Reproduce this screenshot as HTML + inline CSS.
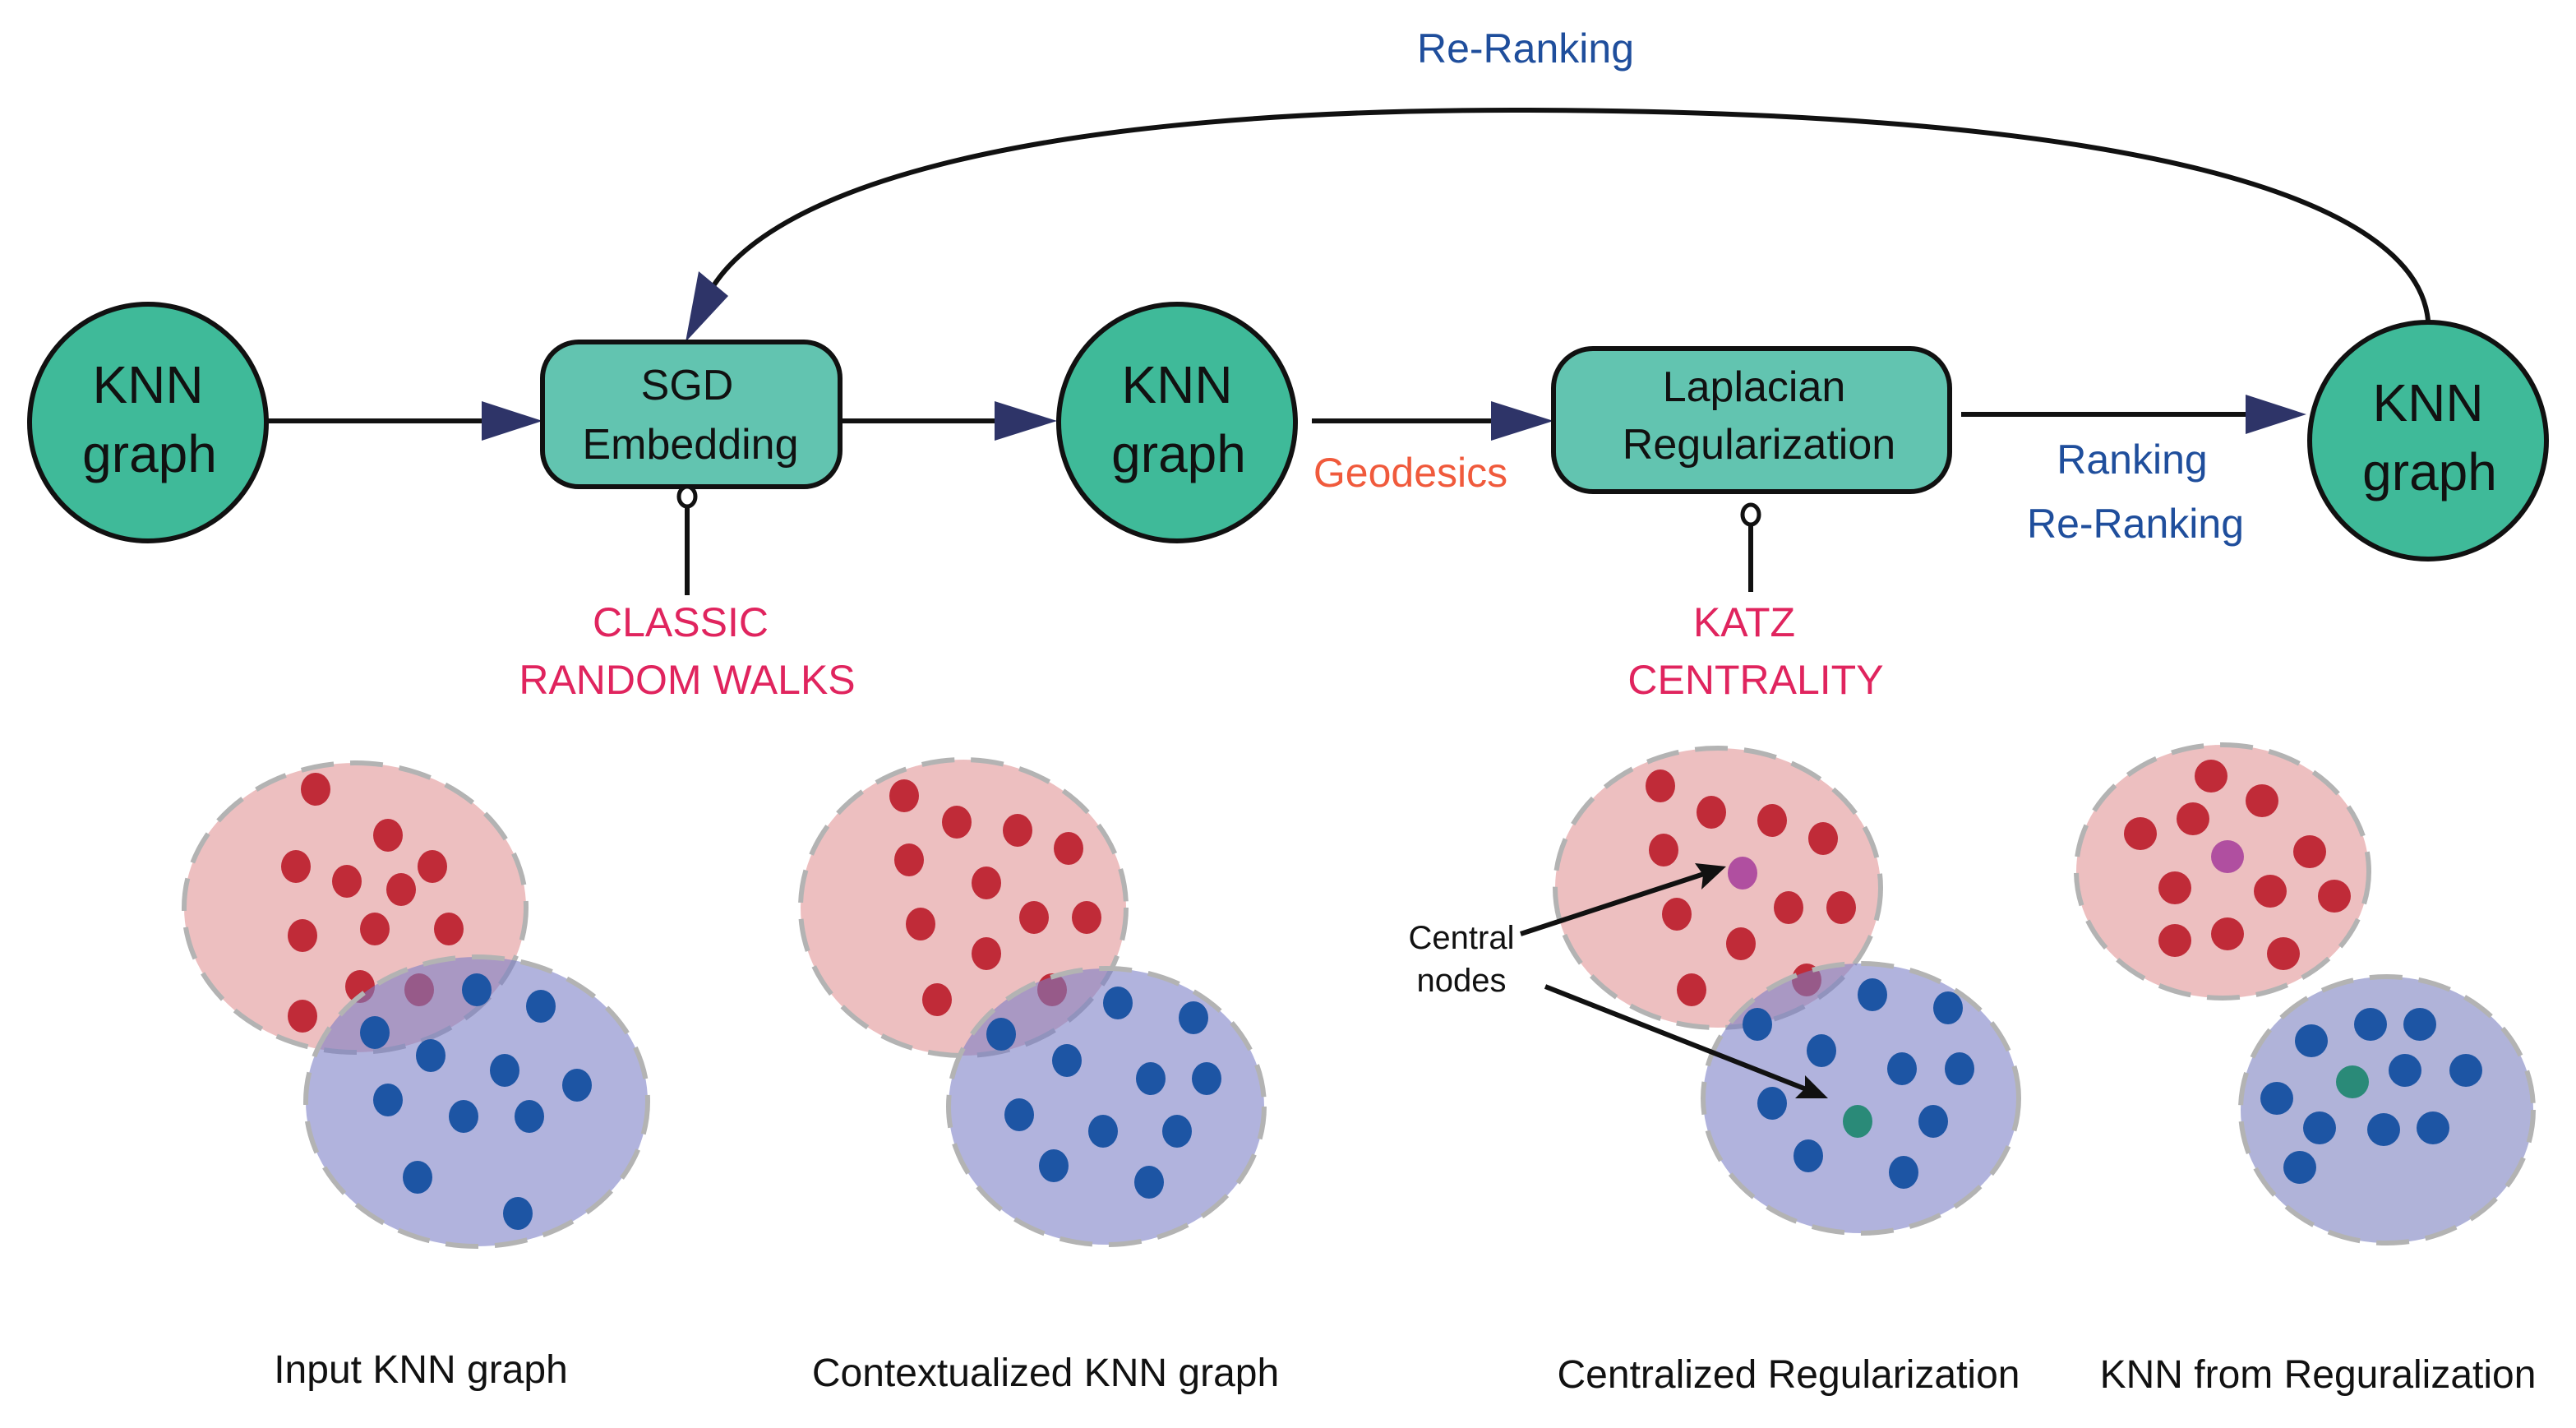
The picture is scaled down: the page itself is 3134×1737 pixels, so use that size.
<!DOCTYPE html>
<html><head><meta charset="utf-8"><style>html,body{margin:0;padding:0;background:#fff}svg{display:block}</style></head>
<body>
<svg width="3134" height="1737" viewBox="0 0 1567 868.5" xmlns="http://www.w3.org/2000/svg" font-family="'Liberation Sans', sans-serif">
<!-- connectors -->
<g stroke="#111" stroke-width="3" fill="none">
<line x1="163" y1="256" x2="300" y2="256"/>
<line x1="511" y1="256" x2="610" y2="256"/>
<line x1="798" y1="256" x2="915" y2="256"/>
<line x1="1193" y1="252" x2="1370" y2="252"/>
<path d="M1477 195 C1470 120 1300 68 930 67 C640 66 460 110 428 185"/>
<line x1="418" y1="308" x2="418" y2="362"/>
<line x1="1065" y1="319" x2="1065" y2="360"/>
</g>
<g fill="#2e3468">
<polygon points="293,244 330,256 293,268"/>
<polygon points="605,244 643,256 605,268"/>
<polygon points="907,244 945,256 907,268"/>
<polygon points="1366,240 1403,252 1366,264"/>
<polygon points="417,208 425,165 443,180"/>
</g>
<!-- nodes -->
<g stroke="#111" stroke-width="3">
<circle cx="90" cy="257" r="72" fill="#3fba99"/>
<circle cx="716" cy="257" r="72" fill="#3fba99"/>
<circle cx="1477" cy="268" r="72" fill="#3fba99"/>
<rect x="330" y="208" width="181" height="88" rx="22" fill="#62c4b0"/>
<rect x="945" y="212" width="241" height="87" rx="24" fill="#62c4b0"/>
</g>
<g fill="#fff" stroke="#111" stroke-width="2.5">
<ellipse cx="418" cy="302" rx="5" ry="6"/>
<ellipse cx="1065" cy="313" rx="5" ry="6"/>
</g>
<g font-size="32" text-anchor="middle" fill="#111">
<text x="90" y="245">KNN</text><text x="91" y="287">graph</text>
<text x="716" y="245">KNN</text><text x="717" y="287">graph</text>
<text x="1477" y="256">KNN</text><text x="1478" y="298">graph</text>
</g>
<g font-size="26" text-anchor="middle" fill="#111">
<text x="418" y="243">SGD</text><text x="420" y="279">Embedding</text>
<text x="1067" y="244">Laplacian</text><text x="1070" y="279">Regularization</text>
</g>
<g font-size="25" text-anchor="middle">
<text x="928" y="38" fill="#1f4e9c">Re-Ranking</text>
<text x="858" y="296" fill="#f05a3c">Geodesics</text>
<text x="1297" y="288" fill="#1f4e9c">Ranking</text>
<text x="1299" y="327" fill="#1f4e9c">Re-Ranking</text>
<text x="414" y="387" fill="#e0245e">CLASSIC</text>
<text x="418" y="422" fill="#e0245e">RANDOM WALKS</text>
<text x="1061" y="387" fill="#e0245e">KATZ</text>
<text x="1068" y="422" fill="#e0245e">CENTRALITY</text>
</g>
<!-- clusters -->
<g stroke="#b3b3b3" stroke-width="3" stroke-dasharray="20 10">
<ellipse cx="216" cy="552" rx="104" ry="88" fill="#edbfc0"/>
<ellipse cx="586" cy="552" rx="99" ry="90" fill="#edbfc0"/>
<ellipse cx="1045" cy="540" rx="99" ry="85" fill="#edbfc0"/>
<ellipse cx="1352" cy="530" rx="89" ry="77" fill="#edbfc0"/>
</g>
<g fill="#c02b38">
<ellipse cx="192" cy="480" rx="9" ry="10"/><ellipse cx="236" cy="508" rx="9" ry="10"/><ellipse cx="180" cy="527" rx="9" ry="10"/><ellipse cx="211" cy="536" rx="9" ry="10"/><ellipse cx="244" cy="541" rx="9" ry="10"/><ellipse cx="263" cy="527" rx="9" ry="10"/><ellipse cx="184" cy="569" rx="9" ry="10"/><ellipse cx="228" cy="565" rx="9" ry="10"/><ellipse cx="273" cy="565" rx="9" ry="10"/><ellipse cx="219" cy="600" rx="9" ry="10"/><ellipse cx="184" cy="618" rx="9" ry="10"/><ellipse cx="255" cy="602" rx="9" ry="10"/>
<ellipse cx="550" cy="484" rx="9" ry="10"/><ellipse cx="582" cy="500" rx="9" ry="10"/><ellipse cx="619" cy="505" rx="9" ry="10"/><ellipse cx="650" cy="516" rx="9" ry="10"/><ellipse cx="553" cy="523" rx="9" ry="10"/><ellipse cx="600" cy="537" rx="9" ry="10"/><ellipse cx="629" cy="558" rx="9" ry="10"/><ellipse cx="661" cy="558" rx="9" ry="10"/><ellipse cx="560" cy="562" rx="9" ry="10"/><ellipse cx="600" cy="580" rx="9" ry="10"/><ellipse cx="570" cy="608" rx="9" ry="10"/><ellipse cx="640" cy="602" rx="9" ry="10"/>
<ellipse cx="1010" cy="478" rx="9" ry="10"/><ellipse cx="1041" cy="494" rx="9" ry="10"/><ellipse cx="1078" cy="499" rx="9" ry="10"/><ellipse cx="1109" cy="510" rx="9" ry="10"/><ellipse cx="1012" cy="517" rx="9" ry="10"/><ellipse cx="1088" cy="552" rx="9" ry="10"/><ellipse cx="1120" cy="552" rx="9" ry="10"/><ellipse cx="1020" cy="556" rx="9" ry="10"/><ellipse cx="1059" cy="574" rx="9" ry="10"/><ellipse cx="1029" cy="602" rx="9" ry="10"/><ellipse cx="1099" cy="596" rx="9" ry="10"/>
<ellipse cx="1345" cy="472" rx="10" ry="10"/><ellipse cx="1376" cy="487" rx="10" ry="10"/><ellipse cx="1334" cy="498" rx="10" ry="10"/><ellipse cx="1302" cy="507" rx="10" ry="10"/><ellipse cx="1405" cy="518" rx="10" ry="10"/><ellipse cx="1323" cy="540" rx="10" ry="10"/><ellipse cx="1381" cy="542" rx="10" ry="10"/><ellipse cx="1420" cy="545" rx="10" ry="10"/><ellipse cx="1323" cy="572" rx="10" ry="10"/><ellipse cx="1355" cy="568" rx="10" ry="10"/><ellipse cx="1389" cy="580" rx="10" ry="10"/>
</g>
<g fill="#b04fa0">
<ellipse cx="1060" cy="531" rx="9" ry="10"/><ellipse cx="1355" cy="521" rx="10" ry="10"/>
</g>
<g stroke="#b3b3b3" stroke-width="3" stroke-dasharray="20 10">
<ellipse cx="290" cy="670" rx="104" ry="88" fill="rgb(120,124,196)" fill-opacity="0.58"/>
<ellipse cx="673" cy="673" rx="96" ry="84" fill="rgb(120,124,196)" fill-opacity="0.58"/>
<ellipse cx="1132" cy="668" rx="96" ry="82" fill="rgb(120,124,196)" fill-opacity="0.58"/>
<ellipse cx="1452" cy="675" rx="89" ry="81" fill="#b0b3d9"/>
</g>
<g fill="#1d55a4">
<ellipse cx="290" cy="602" rx="9" ry="10"/><ellipse cx="329" cy="612" rx="9" ry="10"/><ellipse cx="228" cy="628" rx="9" ry="10"/><ellipse cx="262" cy="642" rx="9" ry="10"/><ellipse cx="307" cy="651" rx="9" ry="10"/><ellipse cx="351" cy="660" rx="9" ry="10"/><ellipse cx="236" cy="669" rx="9" ry="10"/><ellipse cx="282" cy="679" rx="9" ry="10"/><ellipse cx="322" cy="679" rx="9" ry="10"/><ellipse cx="254" cy="716" rx="9" ry="10"/><ellipse cx="315" cy="738" rx="9" ry="10"/>
<ellipse cx="680" cy="610" rx="9" ry="10"/><ellipse cx="726" cy="619" rx="9" ry="10"/><ellipse cx="609" cy="629" rx="9" ry="10"/><ellipse cx="649" cy="645" rx="9" ry="10"/><ellipse cx="700" cy="656" rx="9" ry="10"/><ellipse cx="734" cy="656" rx="9" ry="10"/><ellipse cx="620" cy="678" rx="9" ry="10"/><ellipse cx="671" cy="688" rx="9" ry="10"/><ellipse cx="716" cy="688" rx="9" ry="10"/><ellipse cx="641" cy="709" rx="9" ry="10"/><ellipse cx="699" cy="719" rx="9" ry="10"/>
<ellipse cx="1139" cy="605" rx="9" ry="10"/><ellipse cx="1185" cy="613" rx="9" ry="10"/><ellipse cx="1069" cy="623" rx="9" ry="10"/><ellipse cx="1108" cy="639" rx="9" ry="10"/><ellipse cx="1157" cy="650" rx="9" ry="10"/><ellipse cx="1192" cy="650" rx="9" ry="10"/><ellipse cx="1078" cy="671" rx="9" ry="10"/><ellipse cx="1176" cy="682" rx="9" ry="10"/><ellipse cx="1100" cy="703" rx="9" ry="10"/><ellipse cx="1158" cy="713" rx="9" ry="10"/>
<ellipse cx="1442" cy="623" rx="10" ry="10"/><ellipse cx="1472" cy="623" rx="10" ry="10"/><ellipse cx="1406" cy="633" rx="10" ry="10"/><ellipse cx="1463" cy="651" rx="10" ry="10"/><ellipse cx="1500" cy="651" rx="10" ry="10"/><ellipse cx="1385" cy="668" rx="10" ry="10"/><ellipse cx="1411" cy="686" rx="10" ry="10"/><ellipse cx="1450" cy="687" rx="10" ry="10"/><ellipse cx="1480" cy="686" rx="10" ry="10"/><ellipse cx="1399" cy="710" rx="10" ry="10"/>
</g>
<g fill="#2a8a78">
<ellipse cx="1130" cy="682" rx="9" ry="10"/><ellipse cx="1431" cy="658" rx="10" ry="10"/>
</g>
<!-- central nodes arrows -->
<g stroke="#111" stroke-width="3" fill="none">
<line x1="925" y1="568" x2="1038" y2="531"/>
<line x1="940" y1="600" x2="1100" y2="663"/>
</g>
<g fill="#111">
<polygon points="1050,527 1035,541 1036,532 1031,525"/>
<polygon points="1112,668 1092,668 1098,662 1098,654"/>
</g>
<g font-size="20" text-anchor="middle" fill="#111">
<text x="889" y="577">Central</text>
<text x="889" y="603">nodes</text>
</g>
<g font-size="24" text-anchor="middle" fill="#111">
<text x="256" y="841">Input KNN graph</text>
<text x="636" y="843">Contextualized KNN graph</text>
<text x="1088" y="844">Centralized Regularization</text>
<text x="1410" y="844">KNN from Reguralization</text>
</g>
</svg>
</body></html>
